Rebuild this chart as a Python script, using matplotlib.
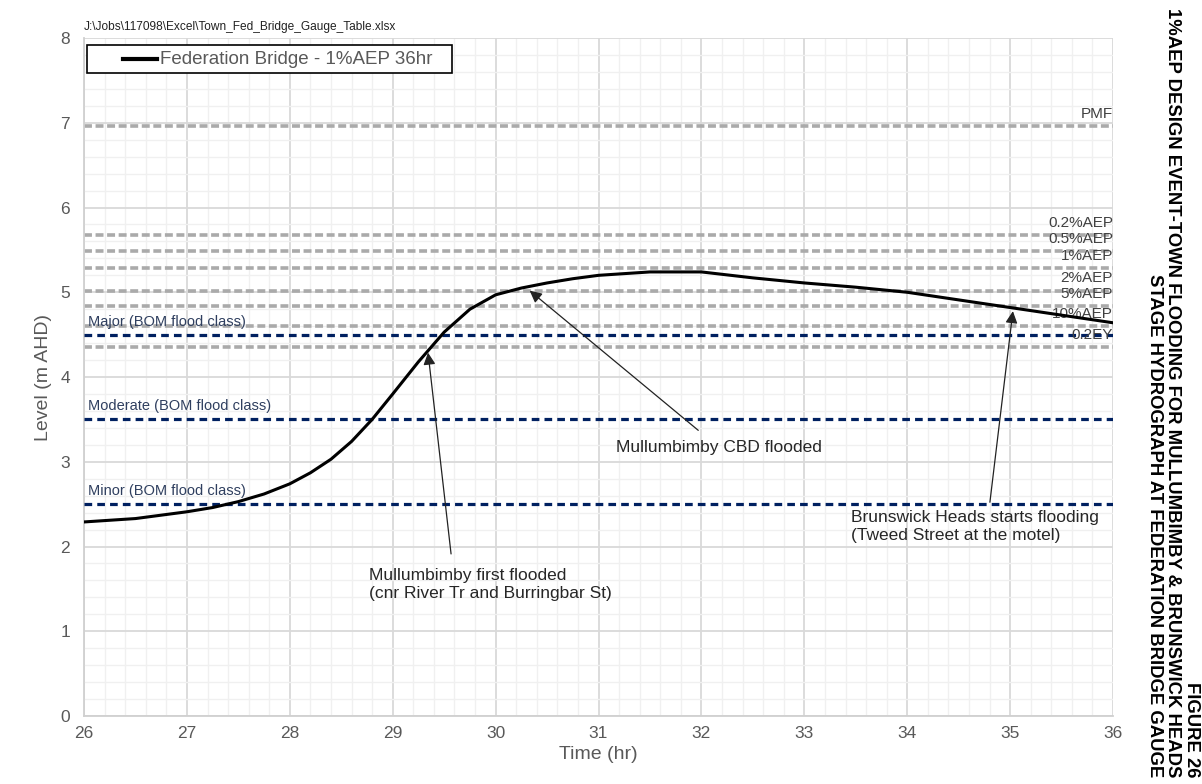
import matplotlib.pyplot as plt
from matplotlib.ticker import MultipleLocator
from matplotlib.patches import Rectangle

# hydrograph at Federation Bridge (1% AEP, 36hr)
time_hr = [26.0, 26.5, 27.0, 27.25, 27.5, 27.75, 28.0, 28.2, 28.4, 28.6, 28.8,
           29.0, 29.25, 29.5, 29.75, 30.0, 30.25, 30.5, 30.75, 31.0, 31.5, 32.0,
           32.5, 33.0, 33.5, 34.0, 34.5, 35.0, 35.5, 36.0]
level = [2.29, 2.33, 2.41, 2.46, 2.53, 2.62, 2.74, 2.87, 3.03, 3.24, 3.50,
         3.80, 4.18, 4.53, 4.80, 4.97, 5.05, 5.11, 5.16, 5.20, 5.24, 5.24,
         5.17, 5.11, 5.06, 5.00, 4.91, 4.82, 4.73, 4.64]

# design event peak levels
aep_names = ["PMF", "0.2%AEP", "0.5%AEP", "1%AEP", "2%AEP", "5%AEP", "10%AEP", "0.2EY"]
aep_levels = [6.96, 5.68, 5.49, 5.29, 5.02, 4.84, 4.60, 4.35]

# BOM flood classes
bom_names = ["Major (BOM flood class)", "Moderate (BOM flood class)", "Minor (BOM flood class)"]
bom_levels = [4.5, 3.5, 2.5]

notes = ["Mullumbimby first flooded\n(cnr River Tr and Burringbar St)",
         "Mullumbimby CBD flooded",
         "Brunswick Heads starts flooding\n(Tweed Street at the motel)"]
note_tips = [(29.34, 4.32), (30.31, 5.04), (35.03, 4.81)]
note_tails = [(29.57, 1.88), (31.99, 3.35), (34.80, 2.49)]
note_text_pos = [(28.77, 1.75), (31.17, 3.26), (33.45, 2.43)]

series_name = "Federation Bridge - 1%AEP 36hr"

plt.rcParams['font.family'] = ['Liberation Sans', 'DejaVu Sans']

fig = plt.figure(figsize=(12.02, 7.84), dpi=100)
ax = fig.add_axes([0.0699, 0.0867, 0.8561, 0.8648])

ax.set_xlim(26, 36)
ax.set_ylim(0, 8)
ax.xaxis.set_major_locator(MultipleLocator(1))
ax.xaxis.set_minor_locator(MultipleLocator(0.2))
ax.yaxis.set_major_locator(MultipleLocator(1))
ax.yaxis.set_minor_locator(MultipleLocator(0.2))
ax.grid(which='major', color='#d9d9d9', lw=1.3)
ax.grid(which='minor', color='#f0f0f0', lw=1.0)
ax.set_axisbelow(True)
ax.tick_params(which='both', length=0, labelsize=12.5, labelcolor='#595959')
ax.tick_params(axis='x', pad=7)
ax.tick_params(axis='y', pad=10)
for s in ['top', 'right']:
    ax.spines[s].set_visible(False)
for s in ['left', 'bottom']:
    ax.spines[s].set_color('#d0d0d0')
    ax.spines[s].set_linewidth(1.3)

ax.set_xlabel("Time (hr)", fontsize=14, color='#595959', labelpad=4)
ax.set_ylabel("Level (m AHD)", fontsize=14, color='#595959', labelpad=6)

for name, lv in zip(bom_names, bom_levels):
    ax.text(26.04, lv + 0.07, name, fontsize=10.5, color='#2f3f5f', va='bottom', ha='left')
    ax.axhline(lv, color='#002060', lw=2.3, dashes=(2.4, 1.6), zorder=3)

for name, lv in zip(aep_names, aep_levels):
    ax.axhline(lv, color='#aaaaaa', lw=2.6, dashes=(2.2, 1.0), zorder=2)
    ax.text(36.0, lv + 0.06, name, fontsize=11, color='#404040', va='bottom', ha='right', zorder=4)

ax.plot(time_hr, level, color='black', lw=2.2, zorder=5)

for txt, tip, tail, pos in zip(notes, note_tips, note_tails, note_text_pos):
    ax.annotate("", xy=tip, xytext=tail,
                arrowprops=dict(arrowstyle='-|>', color='#222222', lw=0.9, mutation_scale=18),
                zorder=6)
    ax.text(pos[0], pos[1], txt, fontsize=12.5, color='#262626', ha='left', va='top',
            linespacing=1.25)

# legend box
ax.add_patch(Rectangle((0.003, 0.9484), 0.355, 0.0413, transform=ax.transAxes,
                       facecolor='white', edgecolor='black', lw=1.2, zorder=7))
ax.plot([0.038, 0.071], [0.969, 0.969], transform=ax.transAxes, color='black',
        lw=3, zorder=8)
ax.text(0.0738, 0.969, series_name, transform=ax.transAxes, fontsize=13.5,
        color='#595959', ha='left', va='center', zorder=8)

fig.text(0.07, 0.958, r"J:\Jobs\117098\Excel\Town_Fed_Bridge_Gauge_Table.xlsx",
         fontsize=8.6, color='#222222', ha='left', va='bottom')

fig.text(0.998, 0.008, "FIGURE 26\n1%AEP DESIGN EVENT-TOWN FLOODING FOR MULLUMBIMBY & BRUNSWICK HEADS\n"
         "STAGE HYDROGRAPH AT FEDERATION BRIDGE GAUGE",
         rotation=270, fontsize=13.3, fontweight='bold', ha='right', va='top',
         multialignment='right', linespacing=1.1, rotation_mode='anchor')

fig.savefig("out.png", dpi=100)
